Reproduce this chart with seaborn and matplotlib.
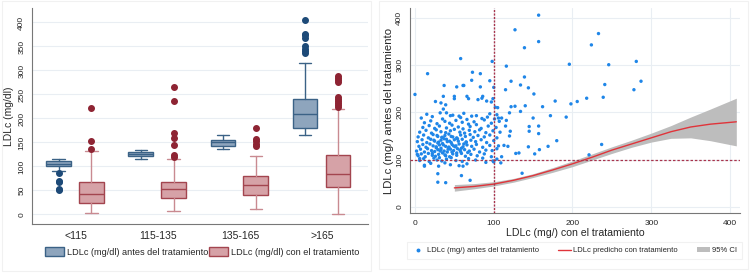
import numpy as np
import pandas as pd
import seaborn as sns
import matplotlib
import matplotlib.pyplot as plt
from matplotlib.patches import Patch, Rectangle
from matplotlib.lines import Line2D

matplotlib.use("Agg")

# ---------------- left panel: box summaries (mg/dl) ----------------
groups = ["<115", "115-135", "135-165", ">165"]

before_q1 = [101, 121, 142, 181]
before_med = [106, 126, 150, 210]
before_q3 = [112, 131, 156, 240]
before_lo = [90, 116, 136, 166]
before_hi = [116, 135, 165, 315]
before_out = [[86, 70, 67, 53, 50], [], [], [336, 340, 345, 350, 368, 373, 376, 406]]

after_q1 = [23, 35, 40, 58]
after_med = [42, 53, 61, 85]
after_q3 = [67, 68, 81, 123]
after_lo = [2, 8, 11, 0]
after_hi = [133, 115, 122, 220]
after_out = [[137, 153, 222], [120, 123, 144, 159, 170, 237, 265],
             [143, 147, 152, 157, 180],
             [224, 228, 232, 237, 241, 245, 276, 280, 284, 288]]

# ---------------- right panel: scatter ----------------
sparse_x = [0, 16, 58, 98, 116, 157, 127, 139, 157, 233, 224, 196, 246, 281, 287,
            278, 241, 239, 218, 206, 198, 178, 172, 192, 180, 169, 237, 221, 162, 151,
            144, 139, 134, 122, 115, 140, 134, 127, 122, 120, 150, 145, 145, 157, 157,
            158, 152, 144, 132, 128, 136, 121, 120, 118, 113, 109, 110, 116, 115, 106,
            105, 102, 95, 97, 100, 99, 91, 86, 83, 83, 73, 72, 68, 66, 62, 61, 53, 50,
            50, 37, 36, 33, 26, 36, 39, 80, 85, 29, 29, 39, 59, 70, 61, 12, 6, 3, 100]
sparse_y = [238, 282, 314, 308, 298, 406, 375, 337, 350, 367, 343, 302, 301, 308, 266,
            248, 259, 232, 230, 223, 218, 224, 193, 190, 140, 128, 132, 110, 212, 239,
            252, 275, 258, 266, 248, 214, 202, 213, 212, 199, 188, 170, 160, 171, 155,
            121, 112, 127, 114, 113, 71, 160, 150, 128, 130, 93, 106, 183, 171, 188,
            210, 211, 267, 222, 253, 229, 224, 234, 254, 282, 285, 268, 229, 234, 257,
            257, 254, 234, 229, 257, 234, 220, 223, 207, 216, 227, 230, 70, 52, 51, 66,
            56, 86, 86, 102, 111, 95]

dense_x = [15, 32, 48, 62, 78, 95, 104, 56, 40,
           8, 22, 35, 45, 58, 66, 72, 85, 92, 101, 110,
           12, 20, 28, 38, 44, 52, 60, 68, 75, 88, 97, 107,
           10, 18, 25, 31, 40, 47, 55, 61, 70, 78, 84, 93, 103,
           6, 14, 21, 27, 33, 39, 45, 50, 57, 63, 69, 76, 82, 90, 99, 108,
           4, 11, 17, 23, 29, 34, 38, 43, 48, 53, 58, 64, 70, 74, 80, 88, 95, 104,
           3, 9, 15, 20, 25, 30, 33, 37, 41, 46, 50, 55, 60, 65, 71, 77, 84, 91, 100,
           5, 10, 14, 19, 23, 27, 31, 35, 39, 43, 47, 52, 56, 61, 66, 72, 78, 86, 95, 106,
           2, 7, 12, 16, 21, 25, 29, 33, 37, 41, 45, 49, 54, 58, 63, 69, 75, 82, 90, 98, 104,
           4, 8, 13, 17, 22, 26, 30, 35, 39, 44, 48, 53, 59, 64, 71, 79, 88, 97,
           6, 11, 18, 24, 28, 34, 40, 46, 52, 60, 68, 77, 86, 99, 104,
           12, 20, 30, 38, 45, 56, 66, 90,
           22, 27, 32, 36, 42, 47, 51, 57, 62, 67, 24, 29, 35, 44, 49, 54, 59, 65,
           31, 38, 43, 46, 53, 28, 33, 40]
dense_y = [196, 199, 194, 198, 193, 197, 195, 192, 199,
           188, 191, 186, 193, 189, 185, 192, 187, 190, 186, 188,
           178, 182, 176, 181, 177, 183, 179, 175, 180, 184, 177, 181,
           168, 172, 166, 171, 167, 173, 169, 165, 170, 174, 166, 171, 168,
           158, 162, 156, 163, 159, 157, 161, 164, 158, 156, 162, 159, 163, 157, 161, 158,
           148, 152, 146, 153, 149, 147, 151, 154, 148, 146, 152, 149, 153, 147, 151, 148, 152, 146,
           138, 142, 136, 143, 139, 137, 141, 144, 138, 136, 142, 139, 143, 137, 141, 138, 142, 136, 140,
           128, 132, 126, 133, 129, 127, 131, 134, 128, 126, 132, 129, 133, 127, 131, 128, 132, 126, 130, 129,
           118, 122, 116, 123, 119, 117, 121, 124, 118, 116, 122, 119, 123, 117, 121, 118, 122, 116, 120, 119, 123,
           108, 112, 106, 113, 109, 107, 111, 114, 108, 106, 112, 109, 113, 107, 111, 108, 112, 106,
           98, 102, 96, 103, 99, 97, 101, 104, 98, 96, 102, 99, 103, 97, 101,
           88, 92, 86, 93, 89, 87, 91, 94,
           113, 125, 118, 131, 122, 116, 127, 120, 133, 115, 141, 135, 147, 139, 129, 144, 124, 137,
           104, 110, 126, 149, 114, 151, 121, 143]

fit_x = [50, 75, 100, 125, 150, 175, 200, 225, 250, 275, 300, 325, 350, 375, 408]
fit_y = [40, 43, 48, 56, 66, 78, 91, 105, 120, 133, 146, 159, 169, 175, 180]
ci_lo = [33, 38, 44, 52, 62, 73, 85, 99, 113, 126, 137, 145, 146, 140, 129]
ci_hi = [47, 49, 53, 60, 70, 83, 97, 112, 127, 141, 156, 172, 190, 207, 230]

# ---------------- style ----------------
sns.set_theme(style="white")
plt.rcParams["font.family"] = ["Liberation Sans", "DejaVu Sans"]

BLUE_FILL, BLUE_EDGE, BLUE_DOT = "#8ea5bd", "#3b6286", "#1d4a78"
RED_FILL, RED_EDGE, RED_DOT = "#d6a2a7", "#a3454f", "#8e2433"
RED_WHISK = "#c98a91"
GRID = "#e9eef3"
SCAT = "#1f86e8"
REF = "#a8344c"

fig = plt.figure(figsize=(7.5, 2.79), dpi=100)
fig.patch.set_facecolor("white")
fig.add_artist(Rectangle((0.002, 0.03), 0.492, 0.965, transform=fig.transFigure,
                         fill=False, edgecolor="#f1f1f1", lw=0.8))
fig.add_artist(Rectangle((0.505, 0.035), 0.492, 0.96, transform=fig.transFigure,
                         fill=False, edgecolor="#f1f1f1", lw=0.8))

# ---------------- left panel ----------------
ax1 = fig.add_axes([0.043, 0.197, 0.447, 0.774])
ax1.set_facecolor("white")

def box_stats(q1, med, q3, lo, hi, out):
    return [dict(q1=a, med=b, q3=c, whislo=d, whishi=e, fliers=f)
            for a, b, c, d, e, f in zip(q1, med, q3, lo, hi, out)]

pos = np.arange(len(groups))
ax1.bxp(box_stats(before_q1, before_med, before_q3, before_lo, before_hi, before_out),
        positions=pos - 0.21, widths=0.3, patch_artist=True,
        boxprops=dict(facecolor=BLUE_FILL, edgecolor=BLUE_EDGE, lw=1.0),
        medianprops=dict(color=BLUE_EDGE, lw=1.0),
        whiskerprops=dict(color=BLUE_EDGE, lw=1.0),
        capprops=dict(color=BLUE_EDGE, lw=1.0), capwidths=0.15,
        flierprops=dict(marker="o", markerfacecolor=BLUE_DOT, markeredgecolor=BLUE_DOT,
                        markersize=4))
ax1.bxp(box_stats(after_q1, after_med, after_q3, after_lo, after_hi, after_out),
        positions=pos + 0.19, widths=0.3, patch_artist=True,
        boxprops=dict(facecolor=RED_FILL, edgecolor=RED_EDGE, lw=1.0),
        medianprops=dict(color=RED_EDGE, lw=1.0),
        whiskerprops=dict(color=RED_WHISK, lw=1.0),
        capprops=dict(color=RED_WHISK, lw=1.0), capwidths=0.15,
        flierprops=dict(marker="o", markerfacecolor=RED_DOT, markeredgecolor=RED_DOT,
                        markersize=4))

ax1.set_xlim(-0.53, 3.55)
ax1.set_ylim(-20, 430)
ax1.set_xticks(pos)
ax1.set_xticklabels(groups, fontsize=7.5)
ax1.set_yticks(range(0, 401, 50))
ax1.set_yticklabels([str(v) for v in range(0, 401, 50)], fontsize=6, rotation=90, va="center")
ax1.set_ylabel("LDLc (mg/dl)", fontsize=7.5, labelpad=3)
ax1.yaxis.grid(True, color=GRID, lw=0.8)
ax1.set_axisbelow(True)
for s in ["top", "right"]:
    ax1.spines[s].set_visible(False)
for s in ["left", "bottom"]:
    ax1.spines[s].set_color("#777777")
    ax1.spines[s].set_linewidth(0.8)
ax1.tick_params(axis="both", length=3, width=0.6, color="#777777", pad=2)

fig.legend(handles=[Patch(facecolor=BLUE_FILL, edgecolor=BLUE_EDGE, label="LDLc (mg/dl) antes del tratamiento"),
                    Patch(facecolor=RED_FILL, edgecolor=RED_EDGE, label="LDLc (mg/dl) con el tratamiento")],
           loc="center", bbox_to_anchor=(0.27, 0.097), ncol=2, frameon=False, fontsize=6.6,
           handlelength=2.0, handleheight=1.2, handletextpad=0.4, columnspacing=0.1)

# ---------------- right panel ----------------
ax2 = fig.add_axes([0.547, 0.237, 0.44, 0.734])
ax2.set_facecolor("white")
scat = pd.DataFrame({"x": sparse_x + dense_x, "y": sparse_y + dense_y})
fit = pd.DataFrame({"x": fit_x, "y": fit_y, "lo": ci_lo, "hi": ci_hi})

ax2.fill_between(fit["x"], fit["lo"], fit["hi"], color="#bdbdbd", lw=0, zorder=2)
sns.scatterplot(data=scat, x="x", y="y", ax=ax2, s=6, color=SCAT, edgecolor="none", zorder=3)
sns.lineplot(data=fit, x="x", y="y", ax=ax2, color="#e0343a", lw=1.0, zorder=4)
ax2.axvline(100, color=REF, lw=1.0, ls=(0, (1.5, 1.0)), zorder=5)
ax2.axhline(100, color=REF, lw=0.9, ls=(0, (2.0, 1.5)), zorder=5)

ax2.set_xlim(-6, 413)
ax2.set_ylim(-13, 421)
ax2.set_xticks(range(0, 401, 100))
ax2.set_xticklabels([str(v) for v in range(0, 401, 100)], fontsize=6)
ax2.set_yticks(range(0, 401, 100))
ax2.set_yticklabels([str(v) for v in range(0, 401, 100)], fontsize=6, rotation=90, va="center")
ax2.set_xlabel("LDLc (mg/) con el tratamiento", fontsize=7.6, labelpad=1)
ax2.set_ylabel("LDLc (mg/) antes del tratamiento", fontsize=8.2, labelpad=2)
ax2.grid(True, color=GRID, lw=0.8)
ax2.set_axisbelow(True)
for s in ["top", "right"]:
    ax2.spines[s].set_visible(False)
for s in ["left", "bottom"]:
    ax2.spines[s].set_color("#777777")
    ax2.spines[s].set_linewidth(0.8)
ax2.tick_params(axis="both", length=3, width=0.6, color="#777777", pad=2)

leg2 = fig.legend(handles=[Line2D([], [], marker="o", ls="", color=SCAT, markersize=1.8,
                                  label="LDLc (mg/) antes del tratamiento"),
                           Line2D([], [], color="#e0343a", lw=1.0, label="LDLc predicho con tratamiento"),
                           Patch(facecolor="#bdbdbd", edgecolor="none", label="95% CI")],
                  loc="center", bbox_to_anchor=(0.766, 0.102),
                  ncol=3, frameon=True, fontsize=5.5, handlelength=1.6, handletextpad=0.3,
                  columnspacing=2.6, borderpad=0.6, fancybox=False)
leg2.get_frame().set_edgecolor("#eeeeee")
leg2.get_frame().set_linewidth(0.8)

fig.savefig("out.png", dpi=100, facecolor="white")
